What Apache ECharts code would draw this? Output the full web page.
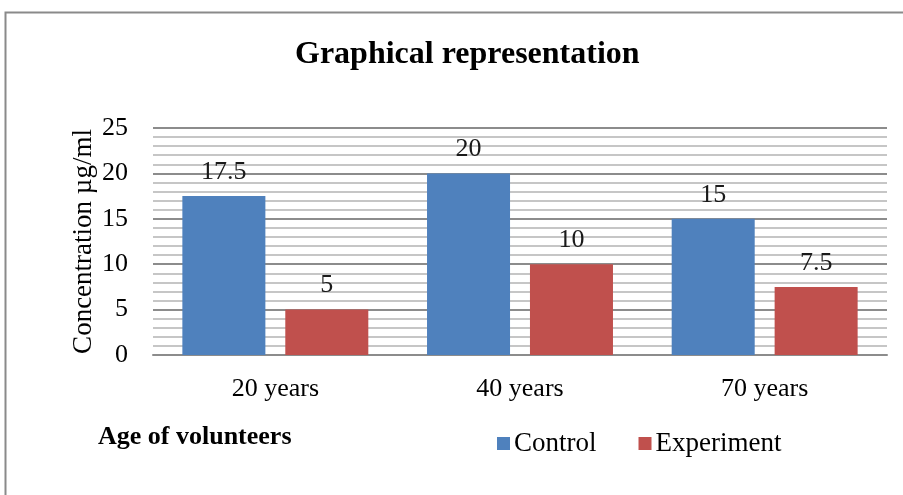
<!DOCTYPE html>
<html>
<head>
<meta charset="utf-8">
<script src="https://cdn.jsdelivr.net/npm/echarts@6/dist/echarts.min.js"></script>
<style>
html,body{margin:0;padding:0;background:#fff;}
#chart{width:903px;height:495px;}
</style>
</head>
<body>
<div id="chart"></div>
<script>
var categories = ['20 years', '40 years', '70 years'];
var controlData = [17.5, 20, 15];
var experimentData = [5, 10, 7.5];
var seriesNames = ['Control', 'Experiment'];

var serif = '"Liberation Serif","Times New Roman",serif';
var myChart = echarts.init(document.getElementById('chart'));

var labelStyle = {
    show: true,
    position: 'top',
    distance: 11,
    fontFamily: serif,
    fontSize: 26,
    color: '#1a1a1a'
};

var option = {
    animation: false,
    backgroundColor: '#fff',
    title: {
        text: 'Graphical representation',
        left: 290,
        top: 34,
        textStyle: {fontFamily: serif, fontSize: 32, fontWeight: 'bold', color: '#000'}
    },
    legend: {
        data: seriesNames,
        left: 492,
        top: 425,
        itemWidth: 13,
        itemHeight: 13,
        itemGap: 42,
        icon: 'rect',
        textStyle: {fontFamily: serif, fontSize: 27, color: '#000', padding: [0, 0, 0, -1]}
    },
    graphic: [
        {
            type: 'rect',
            shape: {x: 5.5, y: 12.5, width: 960, height: 560},
            style: {fill: 'none', stroke: '#8a8a8a', lineWidth: 2}
        },
        {
            type: 'text',
            left: 98,
            top: 424,
            style: {text: 'Age of volunteers', font: 'bold 26px ' + serif, fill: '#000'}
        }
    ],
    grid: {left: 153, right: 16, top: 128, bottom: 140},
    xAxis: {
        type: 'category',
        data: categories,
        axisTick: {show: false},
        axisLine: {lineStyle: {color: '#8c8c8c', width: 2}},
        axisLabel: {fontFamily: serif, fontSize: 26, color: '#000', margin: 21}
    },
    yAxis: {
        type: 'value',
        min: 0,
        max: 25,
        interval: 5,
        name: 'Concentration µg/ml',
        nameLocation: 'middle',
        nameRotate: 90,
        nameGap: 56,
        nameMoveOverlap: false,
        nameTextStyle: {fontFamily: serif, fontSize: 27, color: '#000'},
        axisLine: {show: false},
        axisTick: {show: false},
        axisLabel: {fontFamily: serif, fontSize: 26, color: '#000', margin: 25},
        splitLine: {show: true, lineStyle: {color: '#8c8c8c', width: 2}},
        minorTick: {show: false, splitNumber: 5},
        minorSplitLine: {show: true, lineStyle: {color: '#b4b4b4', width: 1.5}}
    },
    series: [
        {
            name: 'Control',
            type: 'bar',
            data: controlData,
            itemStyle: {color: '#4f81bd'},
            barGap: '24%',
            barCategoryGap: '24%',
            label: labelStyle
        },
        {
            name: 'Experiment',
            type: 'bar',
            data: experimentData,
            itemStyle: {color: '#c0504d'},
            label: labelStyle
        }
    ]
};
myChart.setOption(option);
</script>
</body>
</html>
